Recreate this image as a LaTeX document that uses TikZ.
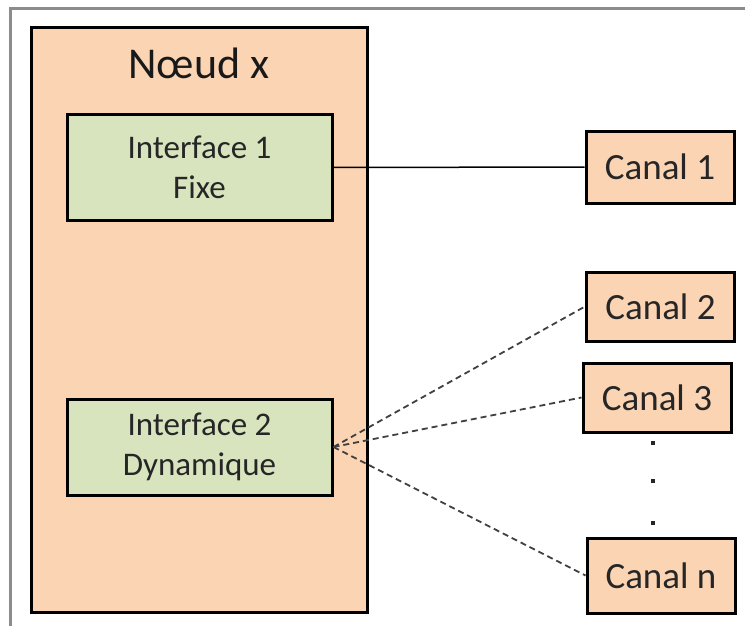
\documentclass[tikz,border=0pt]{standalone}
\usepackage{fontspec}
\setmainfont{Carlito}
\definecolor{peach}{HTML}{FBD4B4}
\definecolor{lgreen}{HTML}{D7E4BD}
\definecolor{framegray}{HTML}{8C8C8C}
\definecolor{dashgray}{HTML}{404040}
\begin{document}
\begin{tikzpicture}[x=1pt,y=-1pt,
  boxbase/.style={draw=black, line width=3pt, inner sep=0pt, align=center, text=black!85},
  nodebox/.style={boxbase, fill=peach},
  ifbox/.style={boxbase, fill=lgreen, minimum width=265pt, font=\fontsize{33}{40}\selectfont},
  canalbox/.style={boxbase, fill=peach, minimum width=148pt, font=\fontsize{37}{40}\selectfont},
  dashlink/.style={draw=dashgray, line width=1.8pt, dash pattern=on 6pt off 4pt},
  dotmark/.style={fill=black!85, inner sep=0pt, minimum size=4pt}]
\useasboundingbox (0,0) rectangle (745,626);
\fill[white] (0,0) rectangle (745,626);
\draw[framegray, line width=3pt] (10,626) -- (10,8.5) -- (745,8.5);
\node[nodebox, minimum width=336pt, minimum height=584pt] (noeud) at (199.5,320) {};
\node[font=\fontsize{44}{48}\selectfont, text=black!90] (titre) at (199,63) {Nœud x};
\node[ifbox, minimum height=105pt] (if1) at (199.5,167.5) {Interface 1\\Fixe};
\node[ifbox, minimum height=96pt] (if2) at (199.5,447) {Interface 2\\Dynamique};
\node[canalbox, minimum height=72pt] (c1) at (660,167) {Canal 1};
\node[canalbox, minimum height=69pt] (c2) at (660.5,306.5) {Canal 2};
\node[canalbox, minimum height=69pt] (c3) at (657,397.5) {Canal 3};
\node[canalbox, minimum height=75pt] (cn) at (661,575.5) {Canal n};
\node[dotmark] (d1) at (653,443) {};
\node[dotmark] (d2) at (653,481) {};
\node[dotmark] (d3) at (653,523) {};
\draw[line width=1.5pt] (if1.east) -- (c1.west);
\draw[dashlink] (if2.east) -- (c2.west);
\draw[dashlink] (if2.east) -- (c3.west);
\draw[dashlink] (if2.east) -- (cn.west);
\end{tikzpicture}
\end{document}
